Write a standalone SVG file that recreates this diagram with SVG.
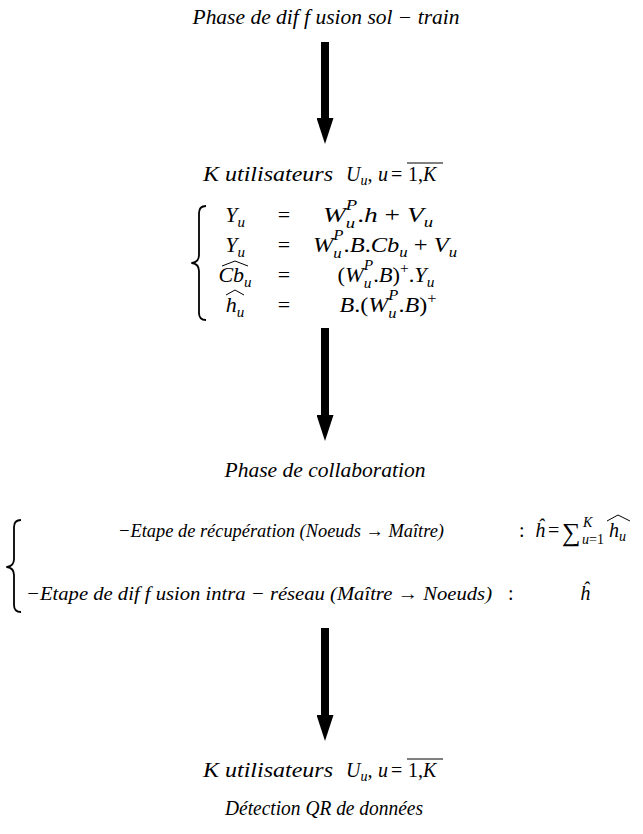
<svg xmlns="http://www.w3.org/2000/svg" width="643" height="834" viewBox="0 0 643 834">
<defs>
<style>
text{font-family:'Liberation Serif','Times New Roman',serif;font-style:italic;font-size:20px;fill:#000}
.eq{font-size:22px}
.up{font-style:normal}
.sb{font-size:15px}
.sm{font-size:14px}
.cl{font-size:19px}
.big{font-size:26px;font-style:normal}
.hat{fill:none;stroke:#000;stroke-width:1}
.bar{stroke:#000;stroke-width:1}
.brace{fill:none;stroke:#000;stroke-width:1.8;stroke-linejoin:round}
.conn{stroke:#000;stroke-width:8}
</style>
<marker id="head" markerUnits="userSpaceOnUse" markerWidth="26" markerHeight="17" viewBox="0 -8.5 26 17" refX="0" refY="0" orient="auto">
<path d="M0,-8.5 L26,0 L0,8.5 Z" fill="#000"/>
</marker>
</defs>
<rect width="643" height="834" fill="#fff"/>

<g id="connectors">
<line class="conn" x1="325" y1="42" x2="325" y2="118" marker-end="url(#head)"/>
<line class="conn" x1="325" y1="328" x2="325" y2="415" marker-end="url(#head)"/>
<line class="conn" x1="325" y1="628" x2="325" y2="715" marker-end="url(#head)"/>
</g>

<g id="phase-diffusion">
<text x="326" y="24" text-anchor="middle" textLength="267" lengthAdjust="spacingAndGlyphs">Phase de dif f usion sol − train</text>
</g>

<g id="users-top">
<text x="203" y="181" textLength="130" lengthAdjust="spacingAndGlyphs">K utilisateurs</text>
<text x="346" y="181">U<tspan class="sm" dy="4">u</tspan><tspan dy="-4">,</tspan></text>
<text x="378" y="181">u</text>
<text class="up" x="391" y="181">=</text>
<text x="408" y="181"><tspan class="up">1,</tspan>K</text>
<line class="bar" x1="407" y1="163" x2="443" y2="163"/>
</g>

<g id="equations">
<path class="brace" d="M206,206 Q199,206 199,213 L199,255 Q199,262 192,263 Q199,264 199,271 L199,313 Q199,320 206,320"/>
<text class="eq" x="235" y="222" text-anchor="middle">Y<tspan class="sb" dy="5">u</tspan></text>
<text class="eq" x="235" y="252" text-anchor="middle">Y<tspan class="sb" dy="5">u</tspan></text>
<text class="eq" x="235" y="282" text-anchor="middle">Cb<tspan class="sb" dy="5">u</tspan></text>
<polyline class="hat" points="222,266 235,261 248,266"/>
<text class="eq" x="235" y="312" text-anchor="middle">h<tspan class="sb" dy="5">u</tspan></text>
<polyline class="hat" points="226,295 235,290 244,295"/>
<text class="eq up" x="284" y="222" text-anchor="middle">=</text>
<text class="eq up" x="284" y="252" text-anchor="middle">=</text>
<text class="eq up" x="284" y="282" text-anchor="middle">=</text>
<text class="eq up" x="284" y="312" text-anchor="middle">=</text>
<text class="eq" x="378" y="222" text-anchor="middle" textLength="110" lengthAdjust="spacingAndGlyphs">W<tspan class="sb" dy="6">u</tspan><tspan class="sb" dx="-7.5" dy="-18">P</tspan><tspan dy="12"><tspan class="up">.</tspan>h <tspan class="up">+</tspan> V</tspan><tspan class="sb" dy="5">u</tspan></text>
<text class="eq" x="385" y="252" text-anchor="middle" textLength="144" lengthAdjust="spacingAndGlyphs">W<tspan class="sb" dy="6">u</tspan><tspan class="sb" dx="-7.5" dy="-18">P</tspan><tspan dy="12"><tspan class="up">.</tspan>B<tspan class="up">.</tspan>Cb</tspan><tspan class="sb" dy="5">u</tspan><tspan dy="-5"> <tspan class="up">+</tspan> V</tspan><tspan class="sb" dy="5">u</tspan></text>
<text class="eq" x="386" y="282" text-anchor="middle" textLength="97" lengthAdjust="spacingAndGlyphs"><tspan class="up">(</tspan>W<tspan class="sb" dy="6">u</tspan><tspan class="sb" dx="-7.5" dy="-18">P</tspan><tspan dy="12"><tspan class="up">.</tspan>B<tspan class="up">)</tspan></tspan><tspan class="sb up" dy="-9">+</tspan><tspan dy="9"><tspan class="up">.</tspan>Y</tspan><tspan class="sb" dy="5">u</tspan></text>
<text class="eq" x="388" y="312" text-anchor="middle" textLength="97" lengthAdjust="spacingAndGlyphs">B<tspan class="up">.(</tspan>W<tspan class="sb" dy="6">u</tspan><tspan class="sb" dx="-7.5" dy="-18">P</tspan><tspan dy="12"><tspan class="up">.</tspan>B<tspan class="up">)</tspan></tspan><tspan class="sb up" dy="-9">+</tspan></text>
</g>

<g id="phase-collaboration">
<text x="325" y="477" text-anchor="middle" textLength="201" lengthAdjust="spacingAndGlyphs">Phase de collaboration</text>
</g>

<g id="collaboration-steps">
<path class="brace" d="M21,520 Q14,520 14,527 L14,559 Q14,566 7,567 Q14,568 14,575 L14,605 Q14,612 21,612"/>
<text class="cl" x="118" y="537" textLength="326" lengthAdjust="spacingAndGlyphs">−Etape de récupération (Noeuds → Maître)</text>
<text class="up" x="519" y="537">:</text>
<text x="535" y="537">ĥ</text>
<text class="up" x="548" y="537">=</text>
<text class="big" x="562" y="541">∑</text>
<text class="sm" x="583" y="527">K</text>
<text class="sm" x="582" y="544">u<tspan class="up">=1</tspan></text>
<text x="609" y="537">h<tspan class="sm" dy="4">u</tspan></text>
<polyline class="hat" points="607,521 618,515 630,521"/>
<text class="cl" x="26" y="600" textLength="466" lengthAdjust="spacingAndGlyphs">−Etape de dif f usion intra − réseau (Maître → Noeuds)</text>
<text class="up" x="508" y="600">:</text>
<text x="580" y="600">ĥ</text>
</g>

<g id="users-bottom">
<text x="203" y="777" textLength="130" lengthAdjust="spacingAndGlyphs">K utilisateurs</text>
<text x="346" y="777">U<tspan class="sm" dy="4">u</tspan><tspan dy="-4">,</tspan></text>
<text x="378" y="777">u</text>
<text class="up" x="391" y="777">=</text>
<text x="408" y="777"><tspan class="up">1,</tspan>K</text>
<line class="bar" x1="407" y1="759" x2="443" y2="759"/>
</g>

<g id="detection">
<text x="225" y="815" textLength="198" lengthAdjust="spacingAndGlyphs">Détection QR de données</text>
</g>
</svg>
